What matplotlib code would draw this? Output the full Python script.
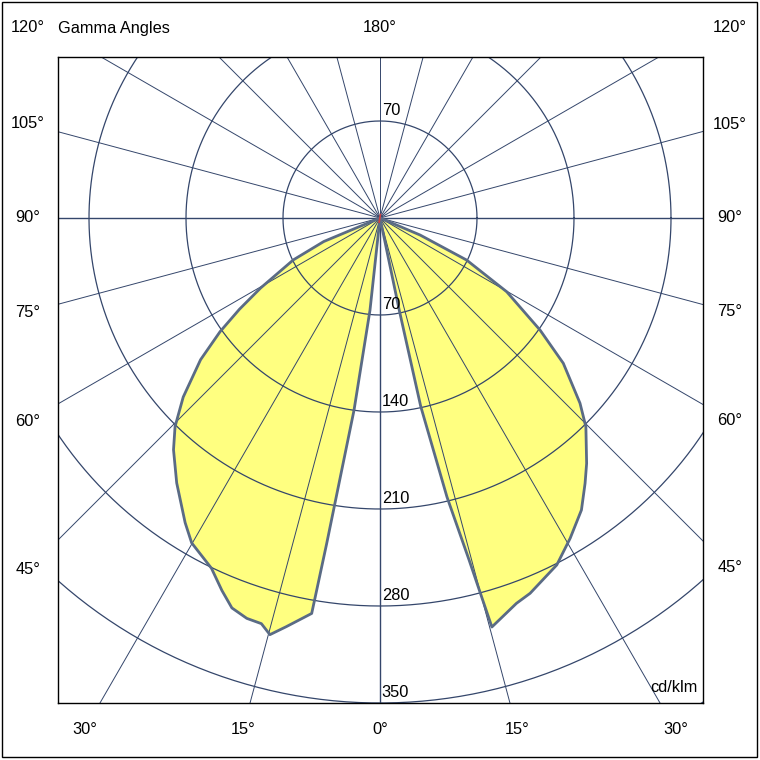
"""
Photometric polar diagram (cd/klm) of an asymmetric luminaire.
"""

### IMPORTS
import numpy as np
import matplotlib
matplotlib.use('Agg')
import matplotlib.pyplot as plt
from matplotlib.patches import Rectangle, Polygon

### DATA
# Left half plane: gamma angle (deg, from nadir) and intensity (cd/klm)
left_gamma = [90, 72, 67.3, 64.2, 59.6, 57.0, 54.6, 51.7, 47.7, 44.5, 41.7,
              37.5, 32.6, 30.1, 25.7, 23.0, 20.8, 18.4, 16.3, 14.8, 12.9,
              9.8, 9.3, 7.7, 6.2, 4.5]
left_value = [0, 0, 44, 69.5, 100, 121, 141.6, 165, 192, 211, 224,
              241, 261, 271, 280.5, 292, 301, 304.5, 305, 311, 302.5,
              289.6, 238, 140, 67, 0]

# Right half plane
right_gamma = [11.0, 11.8, 12.2, 13.5, 14.6, 15.3, 19.5, 21.8, 27.0, 30.7,
               34.6, 37.7, 40.1, 44.6, 47.2, 51.6, 55.0, 59.8, 64.1, 67.0,
               69.0, 90]
right_value = [0, 68, 139, 207, 255, 306, 295, 291.7, 281, 268.8,
               256, 242, 231.5, 211.6, 196.7, 168.8, 141, 105.8, 69.5, 31.4,
               0, 0]

# Grid circles and labelled gamma angles
circle_values = [70, 140, 210, 280, 350, 420, 490]
circle_labels_below = [70, 140, 210, 280, 350]
circle_labels_above = [70]
ray_angles = list(range(0, 360, 15))
gamma_labels = [0, 15, 30, 45, 60, 75, 90, 105, 120]

### STYLE
GRID_COLOR = '#34466b'
EDGE_COLOR = '#5a6b85'
FILL_COLOR = '#ffff80'
FONT = ['Liberation Sans', 'DejaVu Sans']
FS = 11.8

plt.rcParams['font.family'] = FONT

# pixel geometry of the reference (760x760)
W = 760
PX_PER_UNIT = 97 / 70
CX, CY = 380, 218
BOX = (58, 57, 703, 703)  # left, top, right, bottom


def px_to_data_x(px):
    return (px - CX) / PX_PER_UNIT


def px_to_data_y(py):
    return (CY - py) / PX_PER_UNIT


fig = plt.figure(figsize=(7.6, 7.6), dpi=100)
fig.patch.set_facecolor('white')
ax = fig.add_axes([BOX[0] / W, 1 - BOX[3] / W,
                   (BOX[2] - BOX[0]) / W, (BOX[3] - BOX[1]) / W])
ax.set_xlim(px_to_data_x(BOX[0]), px_to_data_x(BOX[2]))
ax.set_ylim(px_to_data_y(BOX[3]), px_to_data_y(BOX[1]))
ax.set_xticks([])
ax.set_yticks([])
for sp in ax.spines.values():
    sp.set_linewidth(1.0)
    sp.set_color('black')

### CURVE
lg = np.radians(left_gamma)
rg = np.radians(right_gamma)
xs = np.concatenate([-np.array(left_value) * np.sin(lg),
                     np.array(right_value) * np.sin(rg)])
ys = np.concatenate([-np.array(left_value) * np.cos(lg),
                     -np.array(right_value) * np.cos(rg)])
ax.add_patch(Polygon(np.column_stack([xs, ys]), closed=True,
                     facecolor=FILL_COLOR, edgecolor='none', zorder=1))

### GRID
t = np.linspace(0, 2 * np.pi, 721)
for v in circle_values:
    ax.plot(v * np.cos(t), v * np.sin(t), color=GRID_COLOR, lw=0.9, zorder=2)
for a in ray_angles:
    ar = np.radians(a)
    ax.plot([0, 700 * np.sin(ar)], [0, -700 * np.cos(ar)],
            color=GRID_COLOR, lw=0.7, zorder=2)
ax.plot([0, 0], [0, -700], color=GRID_COLOR, lw=1.0, zorder=2)
ax.plot([-700, 700], [0, 0], color=GRID_COLOR, lw=1.0, zorder=2)

# outline on top of the grid
ax.add_patch(Polygon(np.column_stack([xs, ys]), closed=True,
                     facecolor='none', edgecolor=EDGE_COLOR, lw=2.0,
                     joinstyle='round', zorder=3))
# small luminaire mark at the centre
ax.plot([0.3, -0.6], [2.5, -3.0], color='#d04040', lw=1.2, zorder=4)

### TEXT
for v in circle_labels_below:
    ax.text(1.2, -v + 2.5, f'{v}', ha='left', va='bottom', fontsize=FS,
            zorder=5)
for v in circle_labels_above:
    ax.text(1.2, v + 2.5, f'{v}', ha='left', va='bottom', fontsize=FS,
            zorder=5)

ax.text(px_to_data_x(698), px_to_data_y(688), 'cd/klm', ha='right',
        va='center', fontsize=FS, zorder=5)

# gamma labels placed on an outer frame around the diagram
LX = px_to_data_x(28)
RX = px_to_data_x(730)
TY = px_to_data_y(28)
BY = px_to_data_y(730)


def label_pos(gamma, side):
    g = np.radians(gamma)
    if gamma < 45:
        # on the bottom line
        y = BY
        x = side * np.tan(g) * -BY
    else:
        # on the side lines, clamped to the top line
        x = RX if side > 0 else LX
        y = -abs(x) / np.tan(g)
        y = min(y, TY)
    return x, y


for g in gamma_labels:
    sides = [1] if g == 0 else [-1, 1]
    for s in sides:
        x, y = label_pos(g, s)
        ax.text(x, y, f'{g}°', ha='center', va='center', fontsize=FS,
                clip_on=False)
ax.text(0, TY, '180°', ha='center', va='center', fontsize=FS, clip_on=False)
ax.text(px_to_data_x(BOX[0]), TY, 'Gamma Angles', ha='left', va='center',
        fontsize=FS, clip_on=False)

# outer frame of the picture
fig.add_artist(Rectangle((2 / W, 3 / W), 755 / W, 755 / W,
                         transform=fig.transFigure, fill=False,
                         edgecolor='black', lw=1.0))

fig.savefig('out.png', dpi=100)
plt.close(fig)
